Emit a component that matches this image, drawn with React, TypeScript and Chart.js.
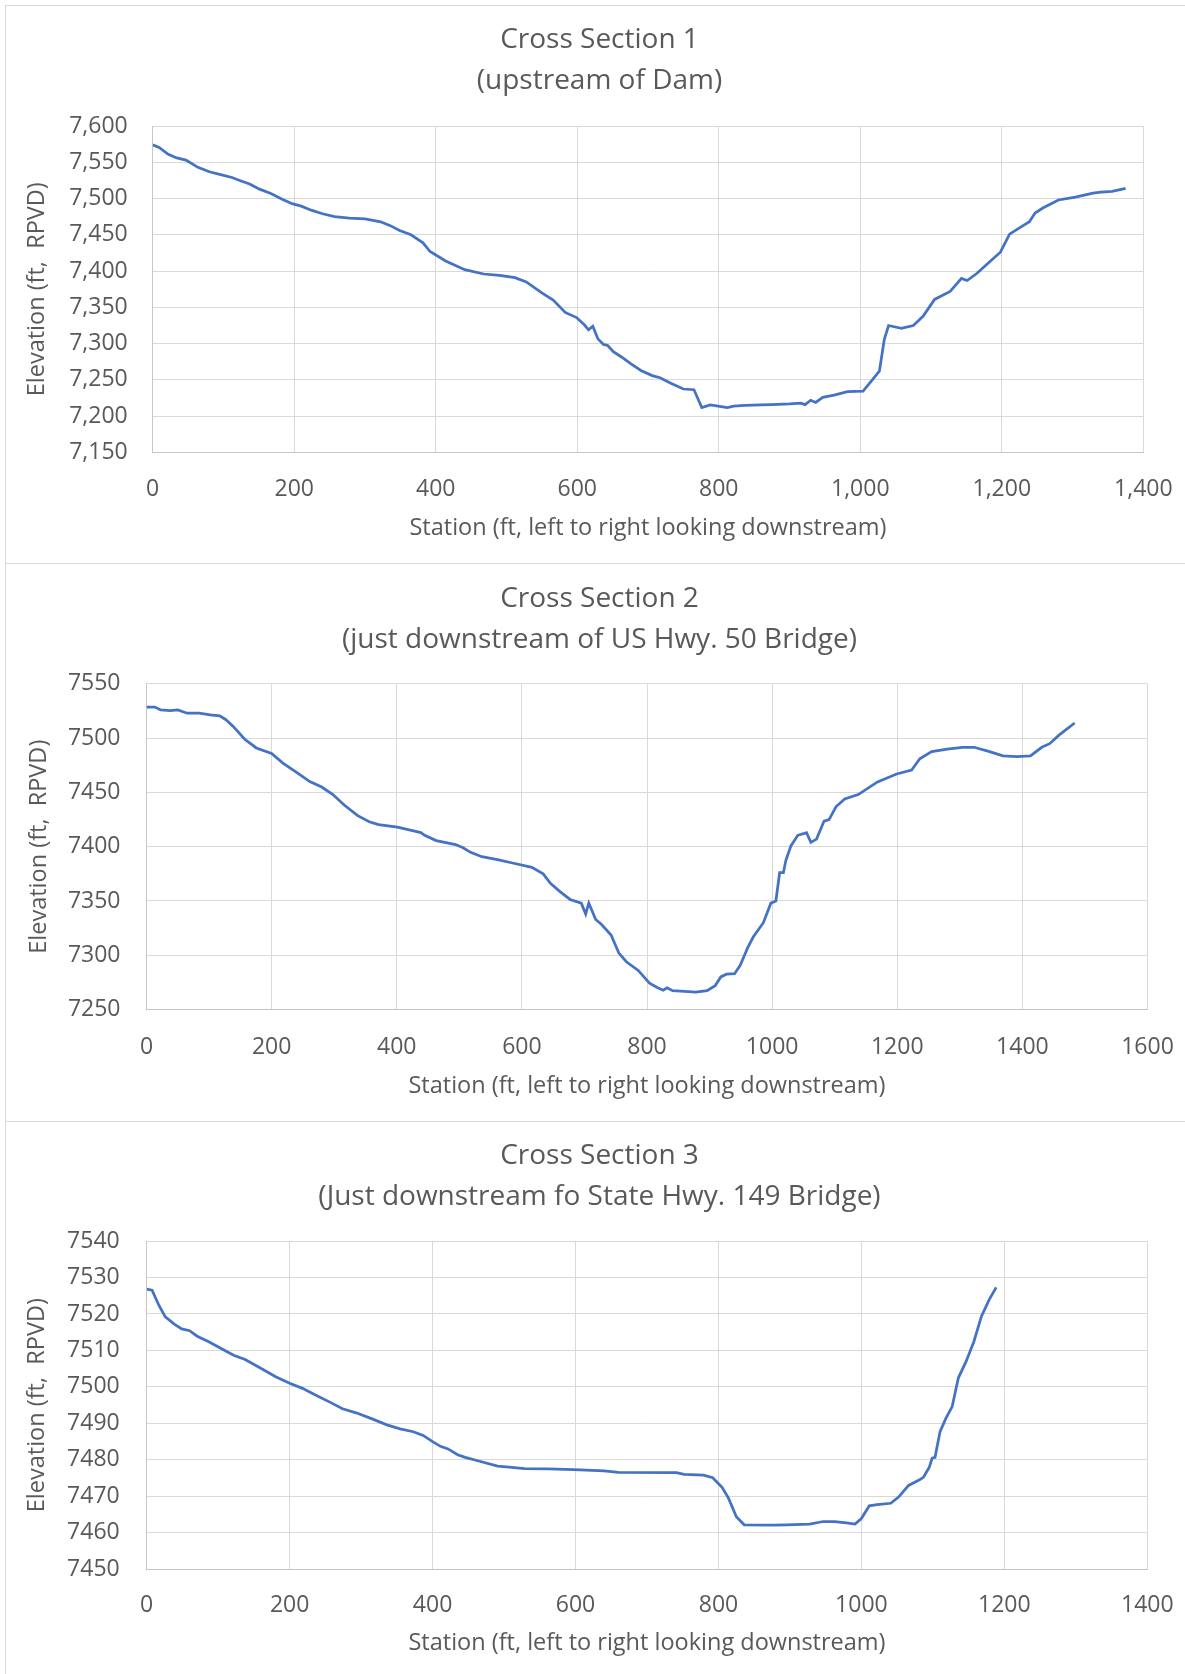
import React, { useEffect, useRef } from "react";
import { Chart, registerables } from "chart.js";

Chart.register(...registerables);

// ---------------- DATA ----------------
const cs1Station = [
  0, 9, 22, 34, 47, 64, 80, 96, 112, 123, 137, 151, 167, 183, 197, 210, 224, 240, 257, 278,
  300, 322, 335, 349, 365, 382, 392, 414, 441, 468, 490, 512, 528, 550, 566, 583, 599, 610,
  616, 622, 629, 637, 643, 651, 662, 676, 690, 706, 717, 733, 750, 765, 776, 788, 799, 812,
  821, 837, 859, 875, 900, 916, 922, 930, 937, 947, 963, 982, 1004, 1017, 1027, 1034, 1040,
  1058, 1075, 1089, 1105, 1127, 1143, 1151, 1165, 1179, 1198, 1211, 1225, 1239, 1247, 1258,
  1280, 1304, 1329, 1340, 1356, 1375,
];
const cs1Elevation = [
  7574, 7570.5, 7561, 7556, 7553, 7543, 7537, 7533, 7529, 7525, 7520, 7513, 7507, 7499, 7493,
  7489.5, 7484, 7479, 7475, 7473, 7472, 7468, 7463, 7456, 7450, 7439, 7427, 7414, 7402, 7396,
  7394, 7391, 7385, 7370, 7360, 7343, 7336, 7326, 7319, 7324, 7307, 7299, 7297.5, 7289, 7282,
  7272, 7263, 7256, 7253, 7245, 7237.5, 7236.5, 7212, 7215.5, 7214, 7212, 7214, 7215, 7215.5,
  7216, 7217, 7218, 7216, 7222, 7219, 7226, 7229, 7234, 7234.5, 7250, 7262, 7306, 7325, 7321,
  7325, 7338, 7361, 7372, 7390, 7387, 7397, 7409.5, 7426, 7451, 7459.5, 7468, 7480, 7487, 7498,
  7502, 7507.5, 7509, 7510, 7514,
];

const cs2Station = [
  0, 13.5, 22.6, 38, 50, 65, 84, 102, 117, 127, 139, 157, 175.5, 200, 218, 237, 261, 280, 298,
  316, 337.6, 356, 371, 401, 420, 438.5, 444.6, 463, 494, 506, 518, 536, 561, 585, 616, 634,
  646, 661, 677, 695, 702, 707, 718, 727, 742.6, 755, 767, 786, 804, 817, 826, 832, 841, 860,
  878, 896, 909, 918, 927, 940, 949, 961, 970, 986, 998, 1006, 1012, 1018, 1022, 1030, 1041,
  1050, 1055, 1062, 1071, 1083, 1091, 1102, 1116, 1137.6, 1168.5, 1199, 1223, 1236, 1255,
  1280, 1304, 1323, 1347.5, 1369, 1391, 1413, 1431, 1443.6, 1459, 1483.6,
];
const cs2Elevation = [
  7528.7, 7528.7, 7526, 7525.4, 7526, 7523, 7523, 7521.4, 7520.5, 7517, 7510.6, 7499, 7491,
  7486, 7477, 7469.6, 7460, 7455, 7448, 7438.4, 7428.6, 7423, 7420.4, 7418, 7415.5, 7413,
  7410.5, 7405.6, 7402, 7399, 7394.8, 7390.8, 7388, 7385, 7381, 7375, 7366, 7358.6, 7351.4,
  7348, 7338, 7348, 7333, 7328.5, 7318.6, 7302, 7294, 7286, 7274.3, 7270, 7267.8, 7270, 7267.4,
  7266.8, 7266, 7267.4, 7272, 7280, 7282.5, 7283, 7290.7, 7307, 7317, 7330, 7348, 7350, 7376,
  7376, 7387.5, 7400.7, 7410.5, 7412, 7413, 7404, 7407, 7423.6, 7425, 7436.8, 7444, 7448,
  7459.7, 7467, 7470.6, 7481, 7487.6, 7490, 7491.6, 7491.6, 7487.6, 7483.7, 7483, 7483.7,
  7491.6, 7494.9, 7503, 7514,
];

const cs3Station = [
  0, 7.5, 17, 26, 38.6, 49, 60, 70.7, 86.8, 105.5, 121.6, 137.7, 159, 180.5, 200, 218, 234,
  255.5, 274, 293, 314.5, 336, 354.6, 373, 386.8, 400, 411, 421.6, 435, 445.7, 464.5, 491, 507,
  528.7, 560.8, 598, 640, 660, 741, 752, 779, 792, 805, 814, 825, 836, 876, 895, 927.6, 946.5,
  962.7, 979, 991, 1000, 1011, 1022, 1041, 1052, 1066, 1082, 1087, 1095, 1099, 1103, 1110,
  1118, 1127, 1135.7, 1146.5, 1157.3, 1168, 1179, 1188.6,
];
const cs3Elevation = [
  7526.8, 7526.5, 7522.4, 7519.2, 7517.2, 7515.9, 7515.4, 7513.9, 7512.4, 7510.4, 7508.7,
  7507.5, 7505.2, 7502.8, 7501, 7499.6, 7498, 7495.9, 7494, 7492.9, 7491.3, 7489.6, 7488.5,
  7487.7, 7486.7, 7485, 7483.7, 7483, 7481.4, 7480.7, 7479.7, 7478.3, 7478, 7477.6, 7477.5,
  7477.3, 7477, 7476.6, 7476.5, 7476, 7475.8, 7475.1, 7472.5, 7469.5, 7464.4, 7462.2, 7462.1,
  7462.2, 7462.4, 7463.1, 7463.1, 7462.7, 7462.4, 7463.9, 7467.4, 7467.7, 7468.1, 7469.8, 7473,
  7474.6, 7475.3, 7478, 7480.5, 7480.7, 7487.7, 7491.3, 7494.6, 7502.5, 7507, 7512.4, 7519.4,
  7524, 7527.3,
];

const cs1Title = ["Cross Section 1", "(upstream of Dam)"];
const cs2Title = ["Cross Section 2", "(just downstream of US Hwy. 50 Bridge)"];
const cs3Title = ["Cross Section 3", "(Just downstream fo State Hwy. 149 Bridge)"];

const xAxisTitle = "Station (ft, left to right looking downstream)";
const yAxisTitle = "Elevation (ft,  RPVD)";

// axis ranges: [min, max, step] (tick labels generated from these)
const cs1XRange = [0, 1400, 200];
const cs1YRange = [7150, 7600, 50];
const cs2XRange = [0, 1600, 200];
const cs2YRange = [7250, 7550, 50];
const cs3XRange = [0, 1400, 200];
const cs3YRange = [7450, 7540, 10];

// ---------------- LAYOUT / STYLE ----------------
const PAGE_W = 1185;
const CANVAS_W = 1199; // chart object extends a little past the page edge (title centred on it)
const FONT = "'Open Sans', 'DejaVu Sans', sans-serif";
const TEXT = "#595959";
const GRID = "#d9d9d9";
const AXIS = "#c6c6c6";
const LINE = "#4472C4";

type Layout = {
  top: number;
  height: number;
  left: number;
  right: number;
  areaTop: number;
  areaBottom: number;
  titlePadTop: number;
  yTickPad: number;
  yTitlePad: number;
  xTickPad: number;
  xTitlePad: number;
};

const layouts: Layout[] = [
  { top: 6, height: 557, left: 152.7, right: 1143.3, areaTop: 120, areaBottom: 446.5, titlePadTop: 14, yTickPad: 25, yTitlePad: 22.9, xTickPad: 23, xTitlePad: 20.5 },
  { top: 563, height: 558, left: 146.5, right: 1147.5, areaTop: 120.9, areaBottom: 446.5, titlePadTop: 15.2, yTickPad: 26, yTitlePad: 25.4, xTickPad: 24, xTitlePad: 21 },
  { top: 1121, height: 553, left: 146.7, right: 1147.3, areaTop: 120, areaBottom: 448.3, titlePadTop: 15, yTickPad: 27, yTitlePad: 23.3, xTickPad: 22, xTitlePad: 17 },
];

const TITLE_SIZE = 28;
const TITLE_LH = 41;
const TICK_SIZE = 23;
const AXIS_TITLE_SIZE = 23.5;

type Spec = {
  title: string[];
  station: number[];
  elevation: number[];
  xRange: number[];
  yRange: number[];
  commas: boolean;
  layout: Layout;
};

const specs: Spec[] = [
  { title: cs1Title, station: cs1Station, elevation: cs1Elevation, xRange: cs1XRange, yRange: cs1YRange, commas: true, layout: layouts[0] },
  { title: cs2Title, station: cs2Station, elevation: cs2Elevation, xRange: cs2XRange, yRange: cs2YRange, commas: false, layout: layouts[1] },
  { title: cs3Title, station: cs3Station, elevation: cs3Elevation, xRange: cs3XRange, yRange: cs3YRange, commas: false, layout: layouts[2] },
];

function fmt(commas: boolean) {
  return (v: any) => (commas ? Number(v).toLocaleString("en-US") : String(v));
}

function CrossSection({ spec }: { spec: Spec }) {
  const ref = useRef<HTMLCanvasElement | null>(null);
  useEffect(() => {
    if (!ref.current) return;
    const L = spec.layout;
    const titlePadBottom = L.areaTop - L.titlePadTop - TITLE_LH * spec.title.length;
    const points = spec.station.map((x, i) => ({ x, y: spec.elevation[i] }));
    const chart = new Chart(ref.current, {
      type: "line",
      data: {
        datasets: [
          {
            data: points,
            borderColor: LINE,
            borderWidth: 2.75,
            pointRadius: 0,
            tension: 0,
            fill: false,
            yAxisID: "y",
          },
        ],
      },
      options: {
        animation: false,
        responsive: false,
        devicePixelRatio: 1,
        layout: { padding: 0 },
        plugins: {
          legend: { display: false },
          tooltip: { enabled: false },
          title: {
            display: true,
            text: spec.title,
            color: TEXT,
            font: { family: FONT, size: TITLE_SIZE, weight: "normal", lineHeight: TITLE_LH / TITLE_SIZE },
            padding: { top: L.titlePadTop, bottom: titlePadBottom },
          },
        },
        scales: {
          x: {
            type: "linear",
            min: spec.xRange[0],
            max: spec.xRange[1],
            ticks: {
              stepSize: spec.xRange[2],
              color: TEXT,
              font: { family: FONT, size: TICK_SIZE },
              padding: L.xTickPad,
              maxRotation: 0,
              autoSkip: false,
              callback: fmt(spec.commas),
            },
            grid: { color: GRID, drawTicks: false, lineWidth: 1 },
            border: { color: AXIS, width: 1 },
            title: {
              display: true,
              text: xAxisTitle,
              color: TEXT,
              font: { family: FONT, size: AXIS_TITLE_SIZE },
              padding: { top: 0, bottom: L.xTitlePad },
            },
            afterFit: (s: any) => {
              s.height = L.height - L.areaBottom;
              s.paddingLeft = 0;
              s.paddingRight = 0;
            },
          },
          y: {
            type: "linear",
            position: "left",
            min: spec.yRange[0],
            max: spec.yRange[1],
            ticks: {
              stepSize: spec.yRange[2],
              color: TEXT,
              font: { family: FONT, size: TICK_SIZE },
              padding: L.yTickPad,
              autoSkip: false,
              callback: fmt(spec.commas),
            },
            grid: { color: GRID, drawTicks: false, lineWidth: 1 },
            border: { color: AXIS, width: 1 },
            title: {
              display: true,
              text: yAxisTitle,
              color: TEXT,
              font: { family: FONT, size: AXIS_TITLE_SIZE },
              padding: { top: L.yTitlePad, bottom: 0 },
            },
            afterFit: (s: any) => {
              s.width = L.left;
              s.paddingTop = 0;
              s.paddingBottom = 0;
            },
          },
          // empty spacer on the right so the plot area ends where the reference's does
          yr: {
            type: "linear",
            position: "right",
            display: true,
            ticks: { display: false },
            grid: { display: false, drawOnChartArea: false, drawTicks: false },
            border: { display: false },
            title: { display: false },
            afterFit: (s: any) => {
              s.width = CANVAS_W - L.right;
              s.paddingTop = 0;
              s.paddingBottom = 0;
            },
          },
        },
      } as any,
    });
    return () => chart.destroy();
  }, [spec]);

  const L = spec.layout;
  return (
    <canvas
      ref={ref}
      width={CANVAS_W}
      height={L.height}
      style={{ position: "absolute", left: 0, top: L.top, width: CANVAS_W, height: L.height }}
    />
  );
}

const borders = [
  { top: 5, height: 558 },
  { top: 563, height: 558 },
  { top: 1121, height: 553 },
];

export default function App() {
  return (
    <div style={{ position: "relative", width: PAGE_W, height: 1674, overflow: "hidden", background: "#fff" }}>
      <style>{`body{margin:0;background:#fff;overflow-x:hidden;}`}</style>
      {borders.map((b, i) => (
        <div
          key={i}
          style={{
            position: "absolute",
            left: 5,
            top: b.top,
            width: PAGE_W,
            height: b.height,
            boxSizing: "border-box",
            borderLeft: `1px solid ${GRID}`,
            borderTop: `1px solid ${GRID}`,
          }}
        />
      ))}
      {specs.map((s, i) => (
        <CrossSection key={i} spec={s} />
      ))}
    </div>
  );
}
